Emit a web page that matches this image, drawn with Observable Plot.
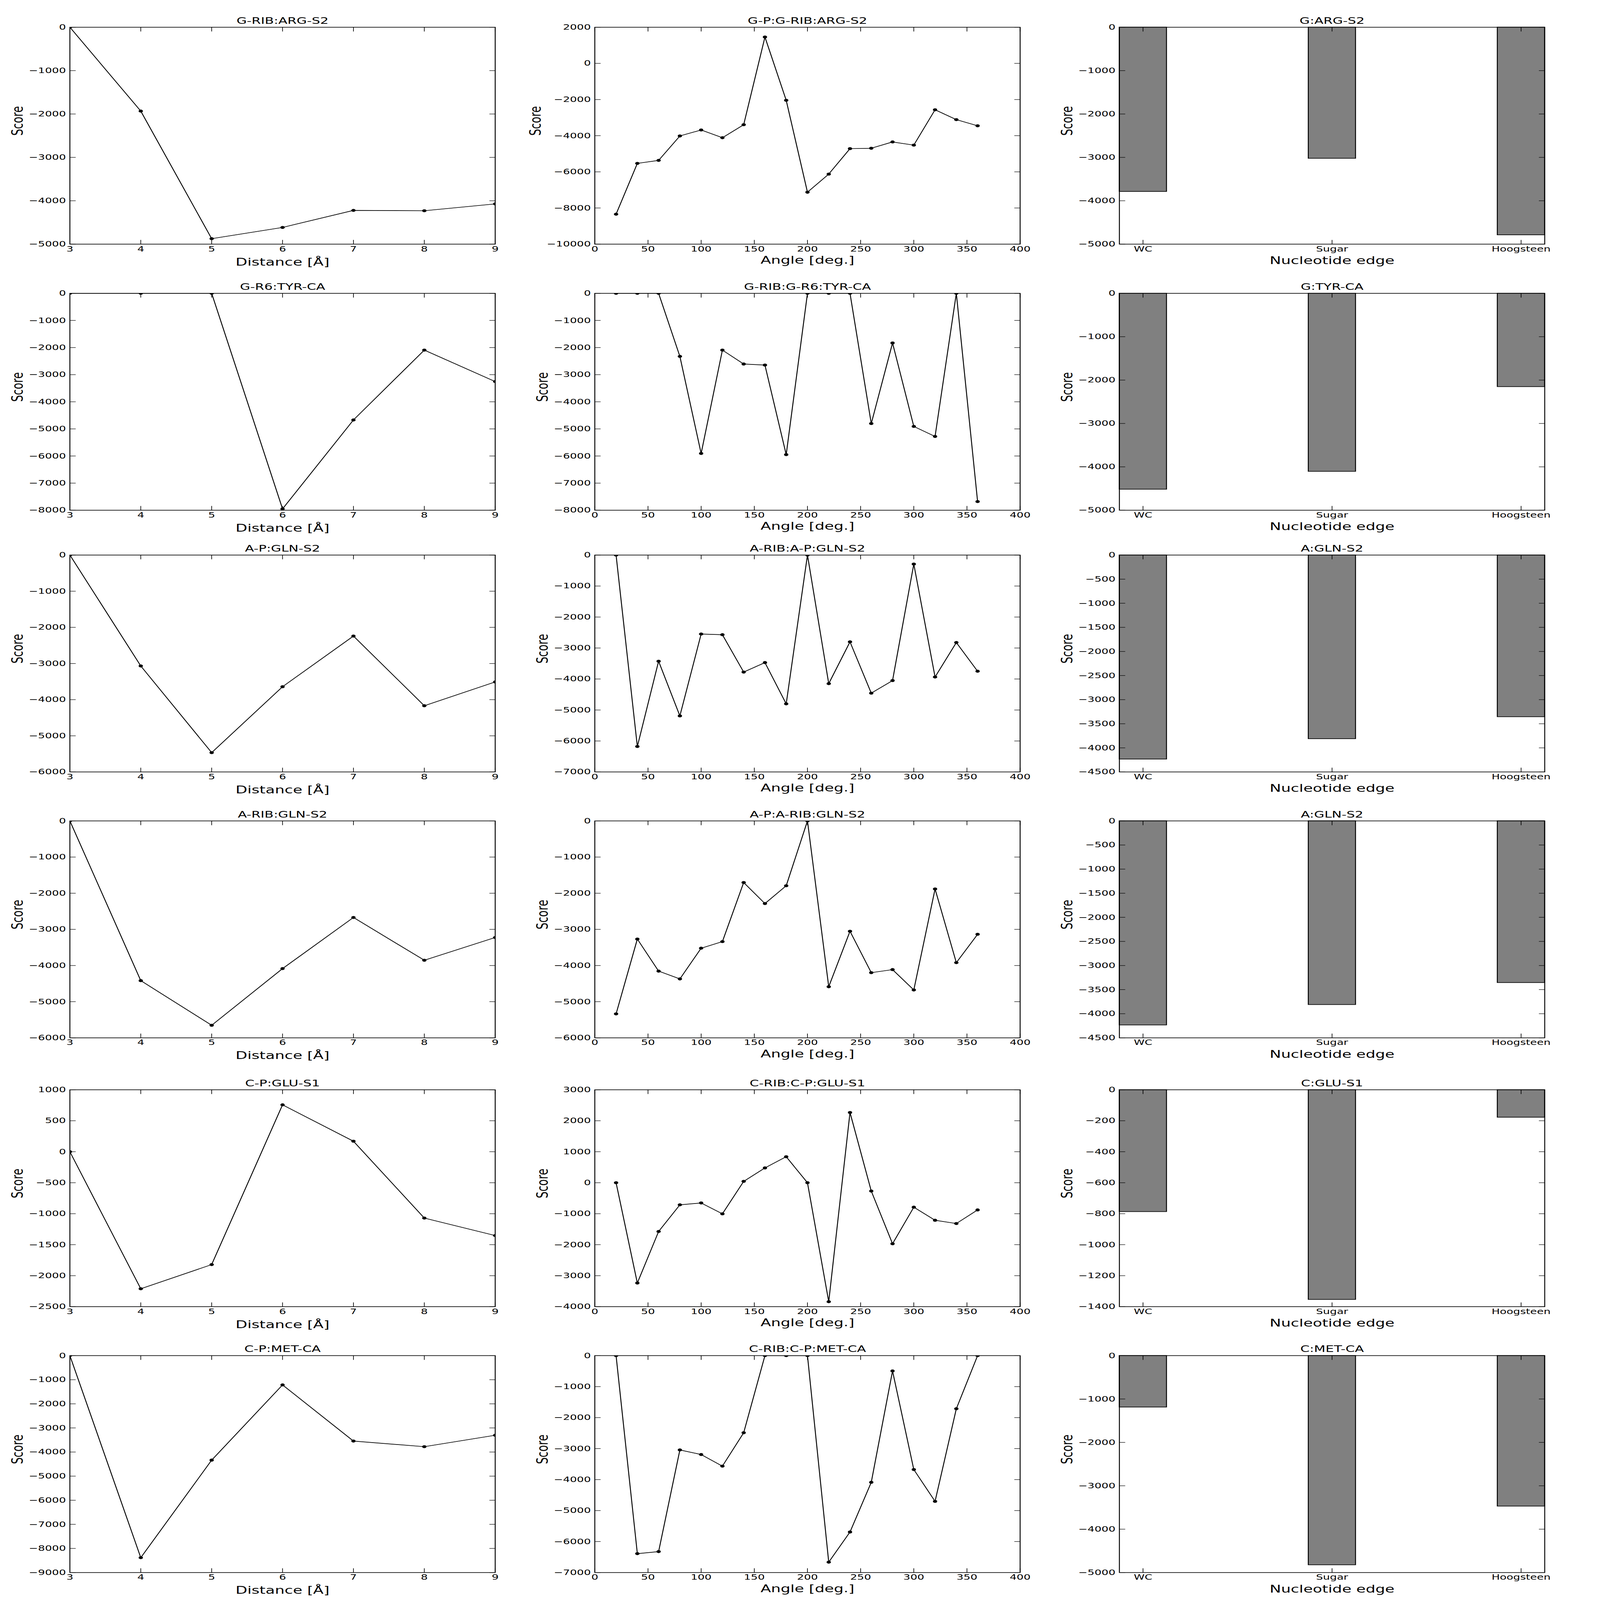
<!DOCTYPE html>
<html>
<head>
<meta charset="utf-8">
<script src="https://cdn.jsdelivr.net/npm/d3@7"></script>
<script src="https://cdn.jsdelivr.net/npm/@observablehq/plot@0.6"></script>
<style>
  html, body { margin: 0; padding: 0; background: white; overflow: hidden; }
  #fig { position: relative; width: 4819px; height: 6963px; background: white; overflow: hidden; transform-origin: 0 0; }
  #fig > div { position: absolute; }
  #fig svg { background: transparent !important; }
</style>
</head>
<body>
<div id="fig"></div>
<script>
// ---------------- DATA ----------------
const distX = [3, 4, 5, 6, 7, 8, 9];
const angleX = [20, 40, 60, 80, 100, 120, 140, 160, 180, 200, 220, 240, 260, 280, 300, 320, 340, 360];
const edges = ["WC", "Sugar", "Hoogsteen"];

const distTitles = ["G-RIB:ARG-S2", "G-R6:TYR-CA", "A-P:GLN-S2", "A-RIB:GLN-S2", "C-P:GLU-S1", "C-P:MET-CA"];
const angleTitles = ["G-P:G-RIB:ARG-S2", "G-RIB:G-R6:TYR-CA", "A-RIB:A-P:GLN-S2", "A-P:A-RIB:GLN-S2", "C-RIB:C-P:GLU-S1", "C-RIB:C-P:MET-CA"];
const edgeTitles = ["G:ARG-S2", "G:TYR-CA", "A:GLN-S2", "A:GLN-S2", "C:GLU-S1", "C:MET-CA"];

// distance panels (column 1)
const distGRibArg = [0, -1933, -4874, -4615, -4222, -4230, -4072];
const distGR6Tyr  = [0, 0, 0, -7950, -4671, -2094, -3254];
const distAPGln   = [0, -3068, -5465, -3642, -2241, -4168, -3510];
const distARibGln = [0, -4418, -5653, -4085, -2671, -3854, -3225];
const distCPGlu   = [0, -2211, -1821, 757, 170, -1070, -1352];
const distCPMet   = [0, -8383, -4336, -1215, -3545, -3778, -3305];

// angle panels (column 2)
const angGPGRibArg = [-8343, -5532, -5367, -4015, -3685, -4113, -3393, 1458, -2042, -7127, -6125, -4716, -4696, -4346, -4521, -2567, -3111, -3451];
const angGRibGR6Tyr = [0, 0, 0, -2326, -5906, -2094, -2608, -2646, -5950, 0, 0, 0, -4803, -1831, -4909, -5279, 0, -7680];
const angARibAPGln = [0, -6178, -3426, -5191, -2549, -2571, -3777, -3470, -4802, 0, -4150, -2801, -4457, -4051, -291, -3936, -2823, -3750];
const angAPARibGln = [-5338, -3268, -4155, -4371, -3521, -3338, -1704, -2286, -1793, 0, -4587, -3052, -4197, -4113, -4676, -1883, -3920, -3136];
const angCRibCPGlu = [0, -3237, -1574, -713, -653, -1004, 44, 477, 839, 0, -3840, 2266, -269, -1969, -790, -1212, -1317, -878];
const angCRibCPMet = [0, -6390, -6324, -3044, -3192, -3566, -2489, 0, 0, 0, -6665, -5692, -4088, -495, -3676, -4703, -1714, 0];

// nucleotide edge panels (column 3): WC, Sugar, Hoogsteen
const edgeGArg = [-3788, -3024, -4788];
const edgeGTyr = [-4518, -4106, -2153];
const edgeAGln = [-4235, -3812, -3356];
const edgeAGln2 = [-4235, -3812, -3356];
const edgeCGlu = [-787, -1354, -178];
const edgeCMet = [-1188, -4824, -3471];

// tick values
const distTicks = [3, 4, 5, 6, 7, 8, 9];
const angleTicks = [0, 50, 100, 150, 200, 250, 300, 350, 400];
const edgeTicks = [0, 1, 2];
const yTicks5k = [0, -1000, -2000, -3000, -4000, -5000];
const yTicksR1Ang = [2000, 0, -2000, -4000, -6000, -8000, -10000];
const yTicks8k = [0, -1000, -2000, -3000, -4000, -5000, -6000, -7000, -8000];
const yTicks6k = [0, -1000, -2000, -3000, -4000, -5000, -6000];
const yTicks7k = [0, -1000, -2000, -3000, -4000, -5000, -6000, -7000];
const yTicks4500 = [0, -500, -1000, -1500, -2000, -2500, -3000, -3500, -4000, -4500];
const yTicksR5Dist = [1000, 500, 0, -500, -1000, -1500, -2000, -2500];
const yTicksR5Ang = [3000, 2000, 1000, 0, -1000, -2000, -3000, -4000];
const yTicksR5Bar = [0, -200, -400, -600, -800, -1000, -1200, -1400];
const yTicks9k = [0, -1000, -2000, -3000, -4000, -5000, -6000, -7000, -8000, -9000];

// ---------------- LAYOUT ----------------
const FIG_W = 4819, FIG_H = 6963;
const colLeft = [210, 1791, 3371];
const rowTop = [118, 1276, 2415, 3572, 4742, 5899];
const AW = 1281, AH = 944;
const ML = 260, MR = 40, MT = 80, MB = 120;
const FONT = "DejaVu Sans, Bitstream Vera Sans, sans-serif";
const fmt = d3.format("d");

const distSeries = [distGRibArg, distGR6Tyr, distAPGln, distARibGln, distCPGlu, distCPMet];
const angSeries = [angGPGRibArg, angGRibGR6Tyr, angARibAPGln, angAPARibGln, angCRibCPGlu, angCRibCPMet];
const edgeSeries = [edgeGArg, edgeGTyr, edgeAGln, edgeAGln2, edgeCGlu, edgeCMet];
const distY = [yTicks5k, yTicks8k, yTicks6k, yTicks6k, yTicksR5Dist, yTicks9k];
const angY = [yTicksR1Ang, yTicks8k, yTicks7k, yTicks6k, yTicksR5Ang, yTicks7k];
const edgeY = [yTicks5k, yTicks5k, yTicks4500, yTicks4500, yTicksR5Bar, yTicks5k];

function labelWidth(s, fs) {
  let w = 0;
  for (const c of s) w += (c === "\u2212" ? 0.838 : 0.636) * fs;
  return w;
}

function panel({col, row, xDomain, xTicks, xFormat, yTicks, title, xLabel, xLabelDy, dataMarks}) {
  const yDomain = d3.extent(yTicks);
  const maxW = d3.max(yTicks, t => labelWidth(fmt(t), 33));
  const scoreOffset = 12 + maxW + 33;
  const svg = Plot.plot({
    width: AW + ML + MR,
    height: AH + MT + MB,
    marginLeft: ML, marginRight: MR, marginTop: MT, marginBottom: MB,
    style: {fontFamily: FONT, fontSize: "33px", background: "transparent", color: "black", overflow: "visible"},
    x: {domain: xDomain},
    y: {domain: yDomain},
    marks: [
      ...dataMarks,
      Plot.axisY(yTicks, {anchor: "left", tickSize: 18, insetLeft: 18, tickPadding: 12, tickFormat: fmt, fontSize: 33, strokeWidth: 2, label: null}),
      Plot.axisY(yTicks, {anchor: "right", tickSize: 18, insetRight: 18, fill: "none", strokeWidth: 2, label: null}),
      Plot.axisX(xTicks, {anchor: "bottom", tickSize: 18, insetBottom: 18, tickPadding: 8, tickFormat: xFormat, fontSize: 33, strokeWidth: 2, label: null}),
      Plot.axisX(xTicks, {anchor: "top", tickSize: 18, insetTop: 18, fill: "none", strokeWidth: 2, label: null}),
      Plot.frame({stroke: "black", strokeWidth: 2.8}),
      Plot.text([title], {text: d => d, frameAnchor: "top", lineAnchor: "middle", dy: -28, fontSize: 40, fill: "black"}),
      Plot.text([xLabel], {text: d => d, frameAnchor: "bottom", lineAnchor: "middle", dy: xLabelDy, fontSize: 46, fill: "black"}),
      Plot.text(["Score"], {text: d => d, frameAnchor: "left", lineAnchor: "middle", dx: -scoreOffset, rotate: -90, fontSize: 46, fill: "black"})
    ]
  });
  const holder = document.createElement("div");
  holder.style.left = (colLeft[col] - ML) + "px";
  holder.style.top = (rowTop[row] - MT) + "px";
  holder.appendChild(svg);
  document.getElementById("fig").appendChild(holder);
}

function lineMarks(xs, ys) {
  const data = xs.map((x, i) => ({x, y: ys[i]}));
  return [
    Plot.line(data, {x: "x", y: "y", stroke: "black", strokeWidth: 2.8, clip: true}),
    Plot.dot(data, {x: "x", y: "y", r: 6.5, fill: "black", stroke: "none", clip: true})
  ];
}

function barMarks(vals) {
  const data = edges.map((e, i) => ({i, v: vals[i]}));
  return [
    Plot.rect(data, {x1: d => d.i - 0.125, x2: d => d.i + 0.125, y1: 0, y2: "v", fill: "#808080", stroke: "black", strokeWidth: 2.8})
  ];
}

for (let r = 0; r < 6; r++) {
  panel({col: 0, row: r, xDomain: d3.extent(distTicks), xTicks: distTicks, xFormat: fmt,
         yTicks: distY[r], title: distTitles[r], xLabel: "Distance [Å]", xLabelDy: 78,
         dataMarks: lineMarks(distX, distSeries[r])});
  panel({col: 1, row: r, xDomain: d3.extent(angleTicks), xTicks: angleTicks, xFormat: fmt,
         yTicks: angY[r], title: angleTitles[r], xLabel: "Angle [deg.]", xLabelDy: 70,
         dataMarks: lineMarks(angleX, angSeries[r])});
  panel({col: 2, row: r, xDomain: [-0.125, 2.125], xTicks: edgeTicks, xFormat: i => edges[i],
         yTicks: edgeY[r], title: edgeTitles[r], xLabel: "Nucleotide edge", xLabelDy: 72,
         dataMarks: barMarks(edgeSeries[r])});
}

// fit the whole figure into the actual viewport if it differs from the intended size
(function fit() {
  const vw = window.innerWidth, vh = window.innerHeight;
  if (vw > 0 && vh > 0) {
    const sx = vw / FIG_W, sy = vh / FIG_H;
    if (Math.abs(sx - 1) > 0.005 || Math.abs(sy - 1) > 0.005) {
      document.getElementById("fig").style.transform = `scale(${sx}, ${sy})`;
    }
  }
})();
</script>
</body>
</html>
